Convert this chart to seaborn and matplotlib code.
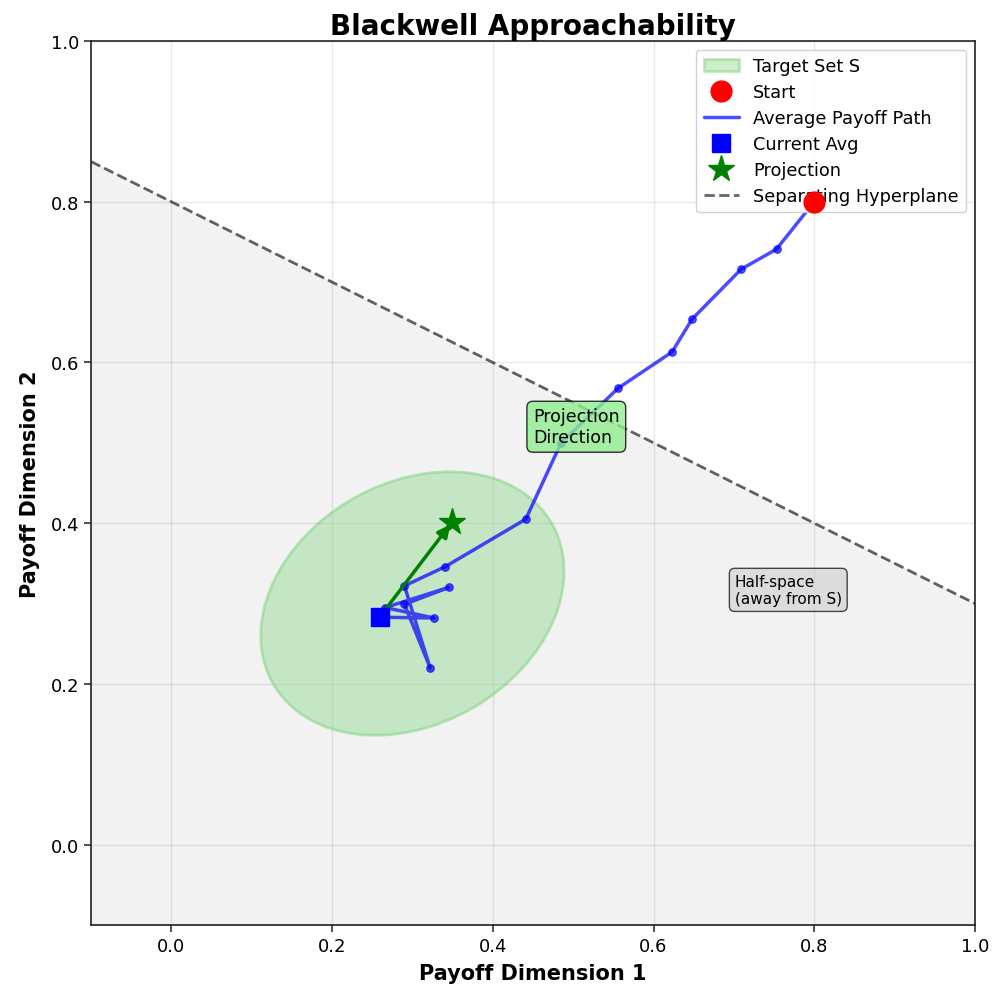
import numpy as np
import pandas as pd
import matplotlib
matplotlib.use("Agg")
import matplotlib.pyplot as plt
from matplotlib.patches import Ellipse, Patch
from matplotlib.lines import Line2D
import seaborn as sns

# Data
path_x = [0.800, 0.753, 0.709, 0.648, 0.623, 0.556, 0.485, 0.441, 0.341, 0.290, 0.322, 0.290, 0.345, 0.266, 0.327, 0.259]
path_y = [0.800, 0.741, 0.716, 0.654, 0.613, 0.568, 0.500, 0.405, 0.346, 0.322, 0.220, 0.299, 0.320, 0.295, 0.282, 0.283]
start_pt = (0.80, 0.80)
current_avg = (0.259, 0.283)
projection_pt = (0.349, 0.401)
target_center = (0.30, 0.30)
target_width, target_height, target_angle = 0.40, 0.30, 30
hyper_x = [-0.1, 1.0]
hyper_y = [0.85, 0.30]

sns.set_theme(style="ticks")
plt.rcParams['font.family'] = ['DejaVu Sans']
plt.rcParams['text.color'] = 'black'
plt.rcParams['axes.labelcolor'] = 'black'
plt.rcParams['xtick.color'] = '#333333'
plt.rcParams['ytick.color'] = '#333333'
plt.rcParams['xtick.labelcolor'] = 'black'
plt.rcParams['ytick.labelcolor'] = 'black'

fig = plt.figure(figsize=(9.94, 9.87), dpi=100)
ax = fig.add_axes([91/994, 1-926/987, (975-91)/994, (926-42)/987])

ax.grid(True, color='gray', alpha=0.18, linewidth=1)
ax.set_axisbelow(True)

# half-space shading
ax.fill_between(hyper_x, hyper_y, -0.1, color='gray', alpha=0.1, zorder=0.5)
ax.plot(hyper_x, hyper_y, linestyle='--', color='black', alpha=0.6, linewidth=2, zorder=2)

# target set
ell = Ellipse(target_center, target_width, target_height, angle=target_angle,
              facecolor='#90d890', alpha=0.45, edgecolor='#70d070', linewidth=2, zorder=1)
ax.add_patch(ell)

df = pd.DataFrame({"x": path_x, "y": path_y})
sns.lineplot(data=df, x="x", y="y", sort=False, estimator=None, color='blue', alpha=0.7,
             linewidth=2.5, marker='o', markersize=5.5, markeredgecolor='blue', ax=ax, zorder=3)

ax.plot(*start_pt, 'o', color='red', markersize=15, zorder=6)
ax.plot(*current_avg, 's', color='blue', markersize=13, zorder=6)
ax.plot(*projection_pt, '*', color='green', markersize=20, zorder=6)
ax.annotate('', xy=projection_pt, xytext=current_avg,
            arrowprops=dict(arrowstyle='-|>', color='green', lw=2.5, mutation_scale=18), zorder=5)

ax.text(0.45, 0.52, 'Projection\nDirection', fontsize=12.5, va='center', ha='left',
        bbox=dict(boxstyle='round,pad=0.35', facecolor='lightgreen', edgecolor='black', alpha=0.8), zorder=7)
ax.text(0.701, 0.317, 'Half-space\n(away from S)', fontsize=11, va='center', ha='left',
        bbox=dict(boxstyle='round,pad=0.35', facecolor='lightgray', edgecolor='black', alpha=0.7), zorder=7)

ax.set_xlim(-0.1, 1.0)
ax.set_ylim(-0.1, 1.0)
ax.set_xlabel('Payoff Dimension 1', fontsize=15, fontweight='bold', labelpad=6)
ax.set_ylabel('Payoff Dimension 2', fontsize=15, fontweight='bold', labelpad=8)
ax.set_title('Blackwell Approachability', fontsize=20, fontweight='bold', pad=5)
ax.tick_params(labelsize=13, length=5, width=1.2)
for s in ax.spines.values():
    s.set_color('#222222')
    s.set_linewidth(1.2)

handles = [
    Patch(facecolor='#90d890', alpha=0.45, edgecolor='#70d070', linewidth=2, label='Target Set S'),
    Line2D([], [], marker='o', color='red', linestyle='None', markersize=15, label='Start'),
    Line2D([], [], color='blue', alpha=0.7, linewidth=2.5, label='Average Payoff Path'),
    Line2D([], [], marker='s', color='blue', linestyle='None', markersize=13, label='Current Avg'),
    Line2D([], [], marker='*', color='green', linestyle='None', markersize=20, label='Projection'),
    Line2D([], [], color='black', alpha=0.6, linestyle='--', linewidth=2, label='Separating Hyperplane'),
]
ax.legend(handles=handles, loc='upper right', fontsize=12.8, framealpha=0.9, labelspacing=0.45)

fig.savefig('out.png', dpi=100)
